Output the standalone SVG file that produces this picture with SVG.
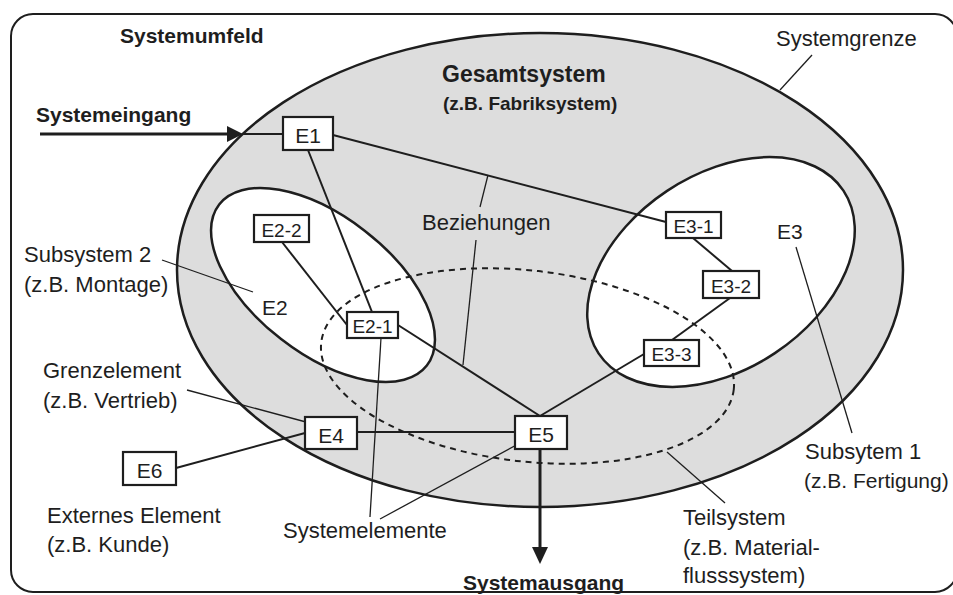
<svg xmlns="http://www.w3.org/2000/svg" width="953" height="595" viewBox="0 0 953 595">
<style>
text{font-family:"Liberation Sans",Arial,sans-serif;fill:#1e1e1e}
.r{font-size:22px}
.b{font-weight:bold;font-size:21px}
.bl{font-size:21px}
.sl{font-size:19px}
.box{fill:#fff;stroke:#1e1e1e;stroke-width:2.2}
.con{stroke:#1e1e1e;stroke-width:2;fill:none}
.lead{stroke:#1e1e1e;stroke-width:1.3;fill:none}
.ell{stroke:#1e1e1e;stroke-width:2.5}
</style>
<rect x="0" y="0" width="953" height="595" fill="#fff"/>
<g id="umfeld">
<rect x="11" y="14" width="946" height="578" rx="22" fill="#fff" stroke="#1e1e1e" stroke-width="2"/>
<text class="b" x="120" y="43">Systemumfeld</text>
</g>
<g id="gesamtsystem">
<ellipse class="ell" cx="540" cy="270" rx="363" ry="237" fill="#dddddd"/>
<text x="442" y="82" style="font-weight:bold;font-size:23px">Gesamtsystem</text>
<text x="443" y="110" style="font-weight:bold;font-size:19px">(z.B. Fabriksystem)</text>
</g>
<g id="subsystem2">
<ellipse class="ell" cx="323" cy="285" rx="131.4" ry="68.4" transform="rotate(37.8 323 285)" fill="#fff"/>
<text class="bl" x="262" y="315">E2</text>
</g>
<g id="subsystem1">
<ellipse class="ell" cx="721" cy="272" rx="147" ry="97.4" transform="rotate(-33.6 721 272)" fill="#fff"/>
<text class="bl" x="777" y="239">E3</text>
</g>
<g id="teilsystem">
<ellipse cx="527.5" cy="366" rx="207.6" ry="95.5" transform="rotate(6.5 527.5 366)" fill="none" stroke="#1e1e1e" stroke-width="2" stroke-dasharray="6 5"/>
</g>
<g id="connectors">
<line x1="40" y1="134" x2="230" y2="134" stroke="#1e1e1e" stroke-width="3"/>
<polygon points="227,126 243,134 227,142" fill="#1e1e1e"/>
<line class="con" x1="243" y1="134" x2="283" y2="134"/>
<line x1="540" y1="449" x2="540" y2="550" stroke="#1e1e1e" stroke-width="3"/>
<polygon points="532,547 540,564 548,547" fill="#1e1e1e"/>
<line class="con" x1="333" y1="135" x2="666" y2="222"/>
<line class="con" x1="308" y1="150" x2="372" y2="312"/>
<line class="con" x1="282" y1="242" x2="347" y2="325"/>
<line class="con" x1="398" y1="325" x2="540" y2="416"/>
<line class="con" x1="693" y1="238" x2="732" y2="271"/>
<line class="con" x1="730" y1="298" x2="672" y2="340"/>
<line class="con" x1="644" y1="354" x2="540" y2="416"/>
<line class="con" x1="357" y1="432" x2="515" y2="432"/>
<line class="con" x1="176" y1="468" x2="305" y2="433" stroke-width="2.5"/>
<line class="lead" x1="812" y1="55" x2="780" y2="90"/>
<line class="lead" x1="488" y1="175" x2="480" y2="207"/>
<line class="lead" x1="476" y1="240" x2="463" y2="365"/>
<line class="lead" x1="162" y1="260" x2="253" y2="292"/>
<line class="lead" x1="187" y1="390" x2="306" y2="422"/>
<line class="lead" x1="370" y1="517" x2="381" y2="338"/>
<line class="lead" x1="380" y1="519" x2="522" y2="442"/>
<line class="lead" x1="667" y1="452" x2="725" y2="503"/>
<line class="lead" x1="796" y1="247" x2="852" y2="433"/>
</g>
<g id="E1"><rect class="box" x="283" y="117" width="50" height="33"/><text class="bl" x="308" y="143" text-anchor="middle">E1</text></g>
<g id="E2-2"><rect class="box" x="254" y="215" width="55" height="27"/><text class="sl" x="281.5" y="237" text-anchor="middle">E2-2</text></g>
<g id="E2-1"><rect class="box" x="347" y="312" width="51" height="26"/><text class="sl" x="372.5" y="333" text-anchor="middle">E2-1</text></g>
<g id="E3-1"><rect class="box" x="666" y="212" width="55" height="26"/><text class="sl" x="693.5" y="233" text-anchor="middle">E3-1</text></g>
<g id="E3-2"><rect class="box" x="703" y="271" width="56" height="27"/><text class="sl" x="731" y="293" text-anchor="middle">E3-2</text></g>
<g id="E3-3"><rect class="box" x="644" y="340" width="55" height="26"/><text class="sl" x="671.5" y="361" text-anchor="middle">E3-3</text></g>
<g id="E4"><rect class="box" x="305" y="417" width="52" height="32"/><text class="bl" x="331" y="443" text-anchor="middle">E4</text></g>
<g id="E5"><rect class="box" x="515" y="416" width="52" height="33"/><text class="bl" x="541" y="442" text-anchor="middle">E5</text></g>
<g id="E6"><rect class="box" x="123" y="452" width="53" height="33"/><text class="bl" x="149.5" y="478" text-anchor="middle">E6</text></g>
<g id="labels">
<text class="r" x="776" y="46">Systemgrenze</text>
<text class="b" x="36" y="122">Systemeingang</text>
<text class="r" x="422" y="230">Beziehungen</text>
<text class="r" x="24" y="262">Subsystem 2</text>
<text class="r" x="24" y="292">(z.B. Montage)</text>
<text class="r" x="43" y="378">Grenzelement</text>
<text class="r" x="43" y="408">(z.B. Vertrieb)</text>
<text class="r" x="47" y="523">Externes Element</text>
<text class="r" x="47" y="552">(z.B. Kunde)</text>
<text class="r" x="283" y="538">Systemelemente</text>
<text class="b" x="463" y="590">Systemausgang</text>
<text class="r" x="683" y="525">Teilsystem</text>
<text class="r" x="683" y="555">(z.B. Material-</text>
<text class="r" x="683" y="583">flusssystem)</text>
<text class="r" x="805" y="459">Subsytem 1</text>
<text x="804" y="488" style="font-size:21px">(z.B. Fertigung)</text>
</g>
</svg>
